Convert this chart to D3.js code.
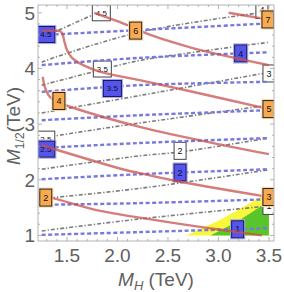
<!DOCTYPE html>
<html>
<head>
<meta charset="utf-8">
<script src="https://cdn.jsdelivr.net/npm/d3@7"></script>
<style>
  body { margin: 0; background: #fff; }
  svg text { font-family: "Liberation Sans", Arial, sans-serif; }
</style>
</head>
<body>
<svg id="chart" width="284" height="292"></svg>
<script>
// blue dashed contours: one row of y values per level, read at blueX
const blueLevels = [1, 1.5, 2, 2.5, 3, 3.5, 4, 4.5];
const blueX = [1.25, 2.22, 3.5];
const blueY = [
  [1.01, 1.06, 1.13],
  [1.55, 1.58, 1.65],
  [2.01, 2.10, 2.19],
  [2.57, 2.66, 2.75],
  [3.07, 3.16, 3.25],
  [3.58, 3.70, 3.76],
  [4.06, 4.19, 4.29],
  [4.60, 4.69, 4.81]
];

// grey dash-dot contours, [x, y] points per level
const greyLevels = [1, 1.5, 2, 2.5, 3, 3.5, 4, 4.5];
const greyLines = [
  [[1.25, 1.08], [2.24, 1.30], [3.5, 1.53]],
  [[1.25, 1.66], [2.24, 1.85], [3.5, 2.18]],
  [[1.25, 2.19], [2.22, 2.43], [2.62, 2.50], [3.5, 2.75]],
  [[1.25, 2.75], [2.07, 2.98], [3.5, 3.34]],
  [[1.25, 3.20], [2.24, 3.52], [3.5, 3.93]],
  [[1.25, 3.70], [1.76, 3.94], [1.95, 4.03], [2.24, 4.15], [3.5, 4.47]],
  [[1.25, 4.11], [1.38, 4.20], [2.24, 4.66], [3.41, 5.0]],
  [[1.25, 4.55], [1.36, 4.64], [1.80, 5.0]]
];

// red solid contours
const redLevels = [2, 3, 4, 5, 6, 7];
const redLines = [
  [[1.25, 1.71], [1.36, 1.67], [1.83, 1.44], [2.22, 1.32], [2.87, 1.14], [3.43, 1.0]],
  [[1.25, 2.62], [2.07, 2.18], [2.22, 2.12], [2.52, 2.00], [3.43, 1.71], [3.5, 1.69]],
  [[1.26, 3.85], [1.28, 3.67], [1.33, 3.49], [1.40, 3.40], [1.50, 3.33], [2.22, 2.95], [3.08, 2.61], [3.5, 2.46]],
  [[1.25, 4.67], [1.43, 4.67], [1.455, 4.62], [1.475, 4.48], [1.50, 4.33], [1.55, 4.19], [1.66, 4.06], [1.83, 3.94], [2.22, 3.79], [2.72, 3.59], [3.5, 3.27]],
  [[1.77, 5.0], [2.14, 4.75], [2.24, 4.66], [2.72, 4.38], [3.5, 4.06]],
  [[3.10, 5.0], [3.43, 4.90], [3.5, 4.88]]
];

// contour labels: [text, x, y]
const greyLabels = [["1", 3.5, 1.53], ["2", 2.62, 2.52], ["2.5", 1.29, 2.73], ["3", 3.5, 3.91],
  ["3.5", 1.85, 3.99], ["4", 3.43, 5.05], ["4.5", 1.84, 5.0]];
const blueLabels = [["1", 3.19, 1.11], ["2", 2.62, 2.13], ["2.5", 1.29, 2.55], ["3.5", 1.95, 3.64],
  ["4", 3.22, 4.27], ["4.5", 1.29, 4.61]];
const redLabels = [["2", 1.29, 1.68], ["3", 3.5, 1.69], ["4", 1.42, 3.415], ["5", 3.5, 3.27],
  ["6", 2.18, 4.68], ["7", 3.49, 4.88]];

// shaded regions
const yellowArea = [[2.68, 1.0], [3.02, 1.28], [3.31, 1.58], [3.45, 1.72], [3.5, 1.74], [3.5, 1.0]];
const greenArea = [[2.92, 1.0], [3.18, 1.24], [3.41, 1.51], [3.5, 1.56], [3.5, 1.0]];

const xTicks = [1.5, 2.0, 2.5, 3.0, 3.5];
const yTicks = [1, 2, 3, 4, 5];

const svg = d3.select("#chart");
const pl = 38, pr = 274, pt = 5, pb = 241;

const x = d3.scaleLinear().domain([1.213, 3.55]).range([pl, pr]);
const y = d3.scaleLinear().domain([0.90, 5.14]).range([pb, pt]);

svg.append("clipPath").attr("id", "plot")
  .append("rect").attr("x", pl).attr("y", pt)
  .attr("width", pr - pl).attr("height", pb - pt);

const plot = svg.append("g").attr("clip-path", "url(#plot)");

const line = d3.line().x(d => x(d[0])).y(d => y(d[1])).curve(d3.curveCatmullRom);
const poly = d3.line().x(d => x(d[0])).y(d => y(d[1]));

plot.append("path").attr("d", poly(yellowArea) + "Z").attr("fill", "#f8f73a");
plot.append("path").attr("d", poly(greenArea) + "Z").attr("fill", "#58c62a");

function drawLabels(g, labels, fill, stroke, halo) {
  const lg = g.selectAll(".lab").data(labels).enter().append("g")
    .attr("transform", d => `translate(${x(d[1])},${y(d[2])})`);
  const w = d => d[0].length > 1 ? 18 : 12;
  const h = d => d[0].length > 1 ? 16 : 17;
  if (halo) {
    lg.append("rect")
      .attr("x", d => -w(d) / 2 - 1).attr("y", d => -h(d) / 2 - 1)
      .attr("width", d => w(d) + 2).attr("height", d => h(d) + 2)
      .attr("fill", "none").attr("stroke", halo).attr("stroke-width", 1.2);
  }
  lg.append("rect")
    .attr("x", d => -w(d) / 2).attr("y", d => -h(d) / 2)
    .attr("width", w).attr("height", h)
    .attr("fill", fill).attr("stroke", stroke).attr("stroke-width", 1);
  lg.append("text")
    .attr("text-anchor", "middle").attr("dy", "0.35em")
    .attr("font-size", d => d[0].length > 1 ? 8 : 9)
    .attr("fill", "#111")
    .text(d => d[0]);
}

// grey family
const greyG = plot.append("g");
greyG.selectAll("path").data(greyLines).enter().append("path")
  .attr("d", line).attr("fill", "none")
  .attr("stroke", "#7c7c7c").attr("stroke-width", 1.6)
  .attr("stroke-dasharray", "4,2,1.3,2");
drawLabels(greyG, greyLabels, "#fff", "#444", null);

// blue family
const blueG = plot.append("g");
blueG.selectAll("path").data(blueLevels).enter().append("path")
  .attr("d", (d, i) => line(blueX.map((v, j) => [v, blueY[i][j]])))
  .attr("fill", "none")
  .attr("stroke", "#7878df").attr("stroke-width", 2.4)
  .attr("stroke-dasharray", "4,2.5");
drawLabels(blueG, blueLabels, "#5454ee", "#1a1a50", "#a8a8f4");

// red family
const redG = plot.append("g");
redG.selectAll("path").data(redLines).enter().append("path")
  .attr("d", line).attr("fill", "none")
  .attr("stroke", "#c8504e").attr("stroke-opacity", 0.75)
  .attr("stroke-width", 2.4);
drawLabels(redG, redLabels, "#f9a94f", "#222", "#fcd9a8");

// frame and ticks
const frame = svg.append("g");
frame.append("rect").attr("x", pl).attr("y", pt)
  .attr("width", pr - pl).attr("height", pb - pt)
  .attr("fill", "none").attr("stroke", "#b4b4b4").attr("stroke-width", 1);

const xMinor = d3.range(1.3, 3.56, 0.1).filter(v => !xTicks.some(t => Math.abs(t - v) < 1e-6));
const yMinor = d3.range(1.0, 5.14, 0.2).filter(v => !yTicks.some(t => Math.abs(t - v) < 1e-6));

function ticks(vals, len) {
  vals.forEach(v => {
    frame.append("line").attr("x1", x(v)).attr("x2", x(v)).attr("y1", pb).attr("y2", pb - len);
    frame.append("line").attr("x1", x(v)).attr("x2", x(v)).attr("y1", pt).attr("y2", pt + len);
  });
}
function yticks(vals, len) {
  vals.forEach(v => {
    frame.append("line").attr("y1", y(v)).attr("y2", y(v)).attr("x1", pl).attr("x2", pl + len);
    frame.append("line").attr("y1", y(v)).attr("y2", y(v)).attr("x1", pr).attr("x2", pr - len);
  });
}
ticks(xTicks, 4); ticks(xMinor, 2);
yticks(yTicks, 4); yticks(yMinor, 2);
frame.selectAll("line").attr("stroke", "#a0a0a0").attr("stroke-width", 0.8);

svg.selectAll(".xl").data(xTicks).enter().append("text")
  .attr("x", d => x(d)).attr("y", 262)
  .attr("text-anchor", "middle").attr("font-size", 19).attr("fill", "#606060")
  .text(d => d3.format(".1f")(d));

svg.selectAll(".yl").data(yTicks).enter().append("text")
  .attr("x", 35).attr("y", d => y(d)).attr("dy", "0.36em")
  .attr("text-anchor", "end").attr("font-size", 19).attr("fill", "#606060")
  .text(d => d);

// axis titles
const xt = svg.append("text").attr("x", 156).attr("y", 286)
  .attr("text-anchor", "middle").attr("font-size", 19).attr("fill", "#606060");
xt.append("tspan").attr("font-style", "italic").text("M");
xt.append("tspan").attr("font-style", "italic").attr("font-size", 13).attr("dy", 4).text("H");
xt.append("tspan").attr("dy", -4).text(" (TeV)");

const yt = svg.append("text").attr("transform", "translate(20,126) rotate(-90)")
  .attr("text-anchor", "middle").attr("font-size", 19).attr("fill", "#606060");
yt.append("tspan").attr("font-style", "italic").text("M");
yt.append("tspan").attr("font-size", 12).attr("dy", 4).text("1/2");
yt.append("tspan").attr("dy", -4).text("(TeV)");
</script>
</body>
</html>
